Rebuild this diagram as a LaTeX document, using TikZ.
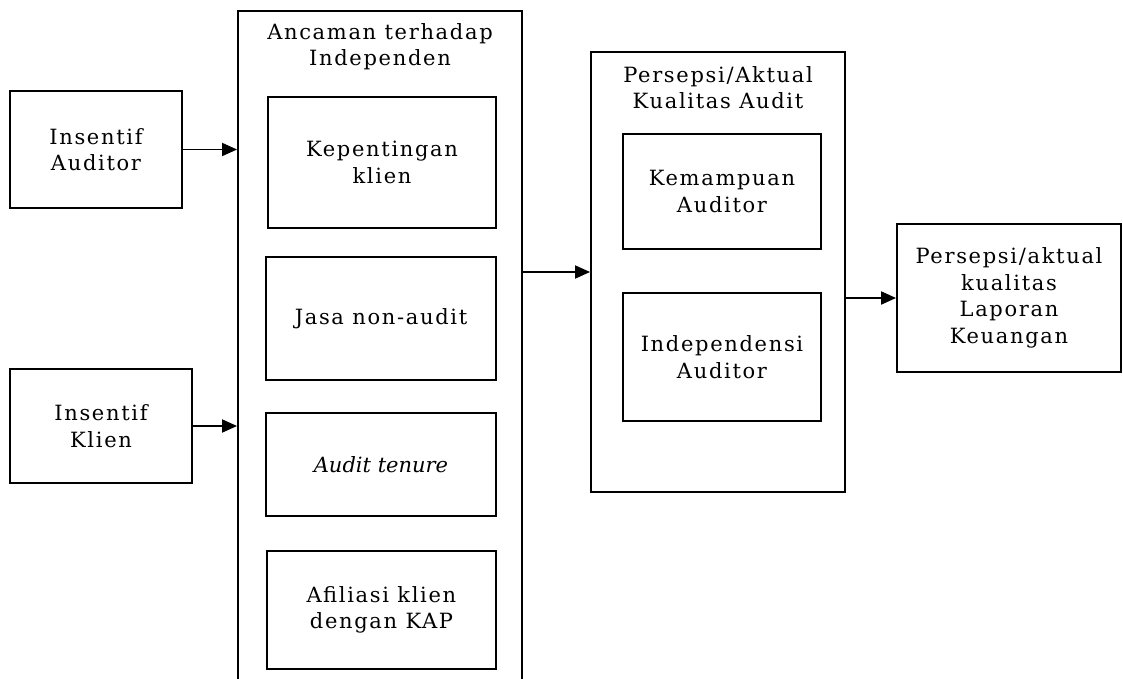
\documentclass[tikz,border=0pt]{standalone}
\usepackage{fontspec}
\setmainfont{DejaVu Serif}[LetterSpace=8,ItalicFeatures={LetterSpace=0}]
\usetikzlibrary{arrows.meta}
\newcommand{\boxtxt}{\fontsize{21}{26.5}\selectfont}

\begin{document}
\begin{tikzpicture}[x=1pt,y=-1pt,
	kotak/.style={draw,line width=1.9pt,inner sep=0pt,align=center,font=\boxtxt},
	judul/.style={inner sep=0pt,align=center,font=\boxtxt},
	panah/.style={line width=1.9pt,-{Triangle[length=15pt,width=13pt]}}]
\clip (0,0) rectangle (1123,679);
% kiri
\node[kotak,minimum width=172,minimum height=117] (insA) at (96,149.5) {Insentif\\Auditor};
\node[kotak,minimum width=182,minimum height=114] (insK) at (101,426) {Insentif\\Klien};
% ancaman terhadap independensi
\node[kotak,minimum width=284,minimum height=689] (ancaman) at (380,355.5) {};
\node[judul] (ancamanT) at (380,46.5) {Ancaman terhadap\\Independen};
\node[kotak,minimum width=228,minimum height=131] (kep) at (382,162.5) {Kepentingan\\klien};
\node[kotak,minimum width=230,minimum height=123] (jasa) at (381,318.5) {Jasa non-audit};
\node[kotak,minimum width=230,minimum height=103] (tenure) at (381,464.5) {\textit{Audit tenure}};
\node[kotak,minimum width=229,minimum height=118] (afil) at (381.5,610) {Afiliasi klien\\dengan KAP};
% kualitas audit
\node[kotak,minimum width=254,minimum height=440] (kualitas) at (718,272) {};
\node[judul] (kualitasT) at (718,87.5) {Persepsi/Aktual\\Kualitas Audit};
\node[kotak,minimum width=198,minimum height=115] (mampu) at (722,191.5) {Kemampuan\\Auditor};
\node[kotak,minimum width=198,minimum height=128] (indep) at (722,357) {Independensi\\Auditor};
% kanan
\node[kotak,minimum width=224,minimum height=148] (laporan) at (1009,298) {Persepsi/aktual\\kualitas\\Laporan\\Keuangan};
% panah
\draw[panah] (insA.east) -- (insA.east -| ancaman.west);
\draw[panah] (insK.east) -- (insK.east -| ancaman.west);
\draw[panah] (kualitas.west -| ancaman.east) -- (kualitas.west);
\draw[panah] (laporan.west -| kualitas.east) -- (laporan.west);
\end{tikzpicture}
\end{document}
